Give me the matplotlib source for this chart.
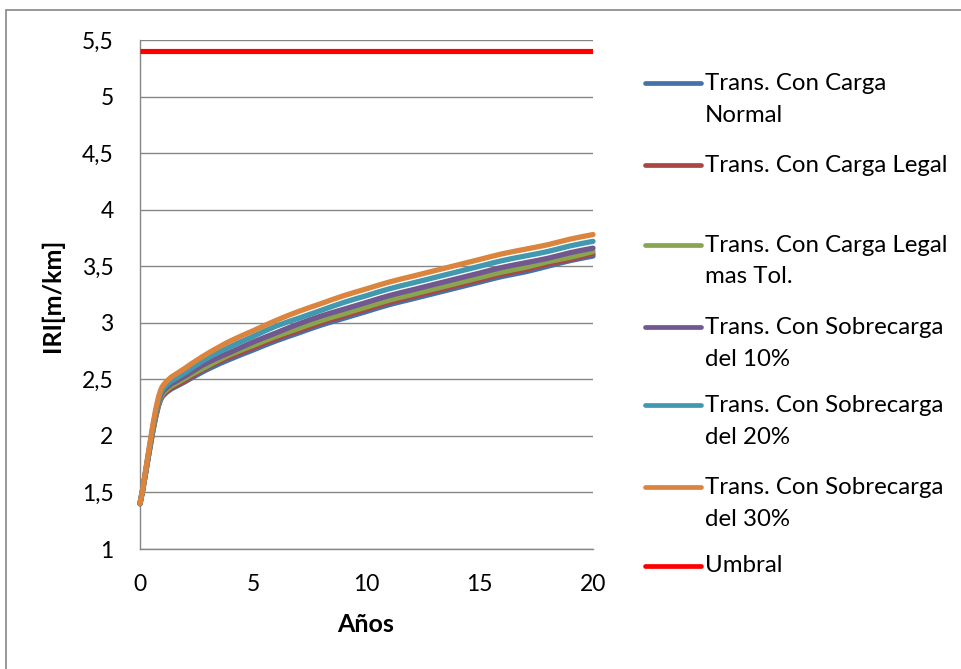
import matplotlib
matplotlib.use("Agg")
import matplotlib.pyplot as plt
from matplotlib.path import Path
from matplotlib.patches import PathPatch, Rectangle
from matplotlib.lines import Line2D
from matplotlib.ticker import FixedLocator, FuncFormatter

plt.rcParams['font.family'] = ['Lato', 'DejaVu Sans']

# Years of analysis
years = list(range(0, 21))

# IRI [m/km] per scenario
carga_normal = [1.40, 2.35, 2.48, 2.59, 2.68, 2.76, 2.84, 2.91, 2.98, 3.04, 3.10,
                3.16, 3.21, 3.26, 3.31, 3.36, 3.41, 3.45, 3.50, 3.55, 3.59]
carga_legal = [1.40, 2.36, 2.49, 2.61, 2.70, 2.78, 2.86, 2.93, 3.00, 3.06, 3.12,
               3.18, 3.23, 3.28, 3.33, 3.38, 3.43, 3.47, 3.52, 3.56, 3.61]
carga_legal_tol = [1.40, 2.37, 2.51, 2.62, 2.72, 2.80, 2.88, 2.95, 3.02, 3.08, 3.14,
                   3.20, 3.25, 3.30, 3.35, 3.40, 3.45, 3.49, 3.54, 3.58, 3.63]
sobrecarga_10 = [1.40, 2.39, 2.53, 2.65, 2.74, 2.83, 2.91, 2.99, 3.06, 3.12, 3.18,
                 3.24, 3.29, 3.34, 3.39, 3.44, 3.49, 3.53, 3.57, 3.62, 3.66]
sobrecarga_20 = [1.40, 2.41, 2.56, 2.69, 2.79, 2.88, 2.97, 3.04, 3.11, 3.18, 3.24,
                 3.30, 3.35, 3.40, 3.45, 3.50, 3.55, 3.59, 3.63, 3.68, 3.72]
sobrecarga_30 = [1.40, 2.44, 2.60, 2.73, 2.84, 2.93, 3.02, 3.10, 3.17, 3.24, 3.30,
                 3.36, 3.41, 3.46, 3.51, 3.56, 3.61, 3.65, 3.69, 3.74, 3.78]
umbral_years = [0, 20]
umbral = [5.4, 5.4]

series_labels = [
    ["Trans. Con Carga", "Normal"],
    ["Trans. Con Carga Legal"],
    ["Trans. Con Carga Legal", "mas Tol."],
    ["Trans. Con Sobrecarga", "del 10%"],
    ["Trans. Con Sobrecarga", "del 20%"],
    ["Trans. Con Sobrecarga", "del 30%"],
    ["Umbral"],
]
series_colors = ["#4572A7", "#AA4643", "#89A54E", "#71588F", "#4198AF", "#DB843D", "#FF0000"]

y_ticks = [1, 1.5, 2, 2.5, 3, 3.5, 4, 4.5, 5, 5.5]
x_ticks = [0, 5, 10, 15, 20]

W, H = 962, 669
fig = plt.figure(figsize=(W / 100, H / 100), dpi=100)
ax = fig.add_axes([140 / W, 1 - 549 / H, 453 / W, 509 / H])


def smooth_path(xs, ys):
    """Monotone cubic Bezier path through the points (no overshoot)."""
    n = len(xs)
    d = [(ys[i + 1] - ys[i]) / (xs[i + 1] - xs[i]) for i in range(n - 1)]
    m = [0.0] * n
    m[0] = d[0]
    m[-1] = d[-1]
    for i in range(1, n - 1):
        if d[i - 1] * d[i] <= 0:
            m[i] = 0.0
        else:
            m[i] = 2.0 / (1.0 / d[i - 1] + 1.0 / d[i])
    verts = [(xs[0], ys[0])]
    codes = [Path.MOVETO]
    for i in range(n - 1):
        h = xs[i + 1] - xs[i]
        c1 = (xs[i] + h / 3, ys[i] + m[i] * h / 3)
        c2 = (xs[i + 1] - h / 3, ys[i + 1] - m[i + 1] * h / 3)
        verts += [c1, c2, (xs[i + 1], ys[i + 1])]
        codes += [Path.CURVE4] * 3
    return Path(verts, codes)


curves = [carga_normal, carga_legal, carga_legal_tol, sobrecarga_10, sobrecarga_20, sobrecarga_30]
for vals, col in zip(curves, series_colors[:6]):
    patch = PathPatch(smooth_path(years, vals), fill=False, edgecolor=col, lw=3.8,
                      capstyle='round', joinstyle='round', zorder=3, clip_on=False)
    ax.add_patch(patch)

ax.plot(umbral_years, umbral, color=series_colors[6], lw=3.7, solid_capstyle='butt', zorder=4)

ax.set_xlim(0, 20)
ax.set_ylim(1, 5.5)
ax.xaxis.set_major_locator(FixedLocator(x_ticks))
ax.yaxis.set_major_locator(FixedLocator(y_ticks))
ax.yaxis.set_major_formatter(FuncFormatter(lambda v, p: f"{v:g}".replace(".", ",")))
ax.xaxis.set_major_formatter(FuncFormatter(lambda v, p: f"{v:g}"))

grid_col = "#868686"
ax.grid(axis='y', color=grid_col, lw=1.0, zorder=0)
ax.set_axisbelow(True)
for s in ['top', 'right']:
    ax.spines[s].set_visible(False)
for s in ['left', 'bottom']:
    ax.spines[s].set_color(grid_col)
    ax.spines[s].set_linewidth(1.0)
ax.tick_params(axis='both', length=0, labelsize=16.5, colors='black')
ax.tick_params(axis='y', pad=19)
ax.tick_params(axis='x', pad=18)

fig.text(366 / W, 1 - 625 / H, "Años", ha='center', va='center', fontsize=18, fontweight='bold')
fig.text(52 / W, 1 - 295 / H, "IRI[m/km]", ha='center', va='center', rotation=90,
         fontsize=18, fontweight='bold')

# Legend, built by hand
entry_y = [83, 165, 245, 327, 405, 487, 566]
for lines, col, yy in zip(series_labels, series_colors, entry_y):
    fig.add_artist(Line2D([645 / W, 701 / W], [1 - yy / H, 1 - yy / H], color=col,
                          lw=3.4, solid_capstyle='round', transform=fig.transFigure))
    for k, txt in enumerate(lines):
        fig.text(705 / W, 1 - (yy + 32 * k) / H, txt, ha='left', va='center', fontsize=17.3)

# Chart area border
fig.add_artist(Rectangle((6 / W, -0.1), 1.2, 1 - 10 / H + 0.1, transform=fig.transFigure,
                         fill=False, edgecolor=grid_col, lw=1.2))

fig.savefig("out.png", dpi=100)
